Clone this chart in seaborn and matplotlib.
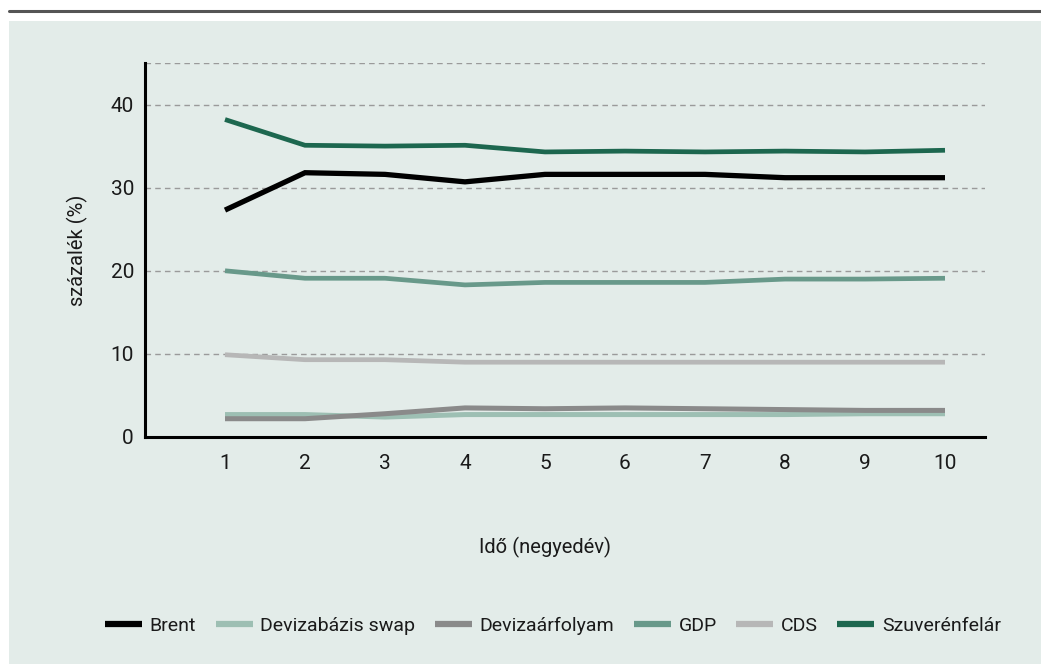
import matplotlib
matplotlib.use("Agg")
import matplotlib.pyplot as plt
from matplotlib.patches import Rectangle
from matplotlib.lines import Line2D
import numpy as np
import pandas as pd
import seaborn as sns

quarters = [1, 2, 3, 4, 5, 6, 7, 8, 9, 10]
brent = [27.3, 31.8, 31.6, 30.7, 31.6, 31.6, 31.6, 31.2, 31.2, 31.2]
swap = [2.7, 2.7, 2.4, 2.7, 2.7, 2.7, 2.7, 2.7, 2.8, 2.8]
fx = [2.2, 2.2, 2.8, 3.5, 3.4, 3.5, 3.4, 3.3, 3.2, 3.2]
gdp = [20.0, 19.1, 19.1, 18.3, 18.6, 18.6, 18.6, 19.0, 19.0, 19.1]
cds = [9.9, 9.3, 9.3, 9.0, 9.0, 9.0, 9.0, 9.0, 9.0, 9.0]
sovereign = [38.2, 35.1, 35.0, 35.1, 34.3, 34.4, 34.3, 34.4, 34.3, 34.5]

series_names = ["Brent", "Devizabázis swap", "Devizaárfolyam", "GDP", "CDS", "Szuverénfelár"]
series_values = [brent, swap, fx, gdp, cds, sovereign]
colors = ["#000000", "#9dbfb3", "#8a8a8a", "#68998a", "#b7b7b7", "#1d674f"]
widths = [3.8, 3.6, 3.6, 3.4, 3.4, 3.4]

df = pd.DataFrame({
    "Idő": np.tile(quarters, len(series_names)),
    "Érték": np.concatenate(series_values),
    "Sorozat": np.repeat(series_names, len(quarters)),
})

sns.set_theme(style="white")
plt.rcParams["font.family"] = ["Roboto", "DejaVu Sans"]
plt.rcParams["text.color"] = "#1a1a1a"
plt.rcParams["axes.labelcolor"] = "#1a1a1a"
plt.rcParams["xtick.color"] = "#1a1a1a"
plt.rcParams["ytick.color"] = "#1a1a1a"

W, H = 1041, 664
fig = plt.figure(figsize=(W / 100, H / 100), dpi=100)
fig.patch.set_facecolor("white")

# light background panel and the rule above it
fig.patches.append(Rectangle((9 / W, 0), 1 - 9 / W, 1 - 21 / H, transform=fig.transFigure,
                             facecolor="#e3ece9", edgecolor="none", zorder=0))
fig.lines.append(Line2D([9 / W, 1], [1 - 11 / H, 1 - 11 / H], transform=fig.transFigure,
                        color="#555555", linewidth=2.2, zorder=0))

ax = fig.add_axes([145 / W, (H - 437) / H, 840 / W, 374 / H])
ax.set_zorder(2)
ax.set_facecolor("none")

for name, col, lw in zip(series_names, colors, widths):
    sns.lineplot(data=df[df["Sorozat"] == name], x="Idő", y="Érték", color=col,
                 linewidth=lw, ax=ax, legend=False, zorder=3,
                 solid_capstyle="butt", solid_joinstyle="miter")

ax.set_xlim(0, 10.5)
ax.set_ylim(0, 45)
ax.set_xticks(quarters)
ax.set_xticks(np.arange(0.5, 10.5, 0.5), minor=True)
ax.set_yticks([0, 10, 20, 30, 40])
for yv in [10, 20, 30, 40, 45]:
    ax.axhline(yv, color="#9a9a9a", linestyle=(0, (4, 3)), linewidth=1.0, zorder=1)

for side in ["top", "right"]:
    ax.spines[side].set_visible(False)
for side in ["left", "bottom"]:
    ax.spines[side].set_color("black")
    ax.spines[side].set_linewidth(2.2)
    ax.spines[side].set_zorder(4)

ax.tick_params(axis="x", which="both", direction="in", length=4, width=0.8, color="#444444",
               labelsize=15, pad=12)
ax.tick_params(axis="y", which="both", direction="in", length=0, labelsize=15, pad=8)
ax.set_xlabel("")
ax.set_ylabel("százalék (%)", fontsize=14.5, labelpad=16)

fig.text(545 / W, 1 - 547 / H, "Idő (negyedév)", ha="center", va="center", fontsize=14.5)

handles = [Line2D([], [], color=c, linewidth=4.5, solid_capstyle="butt") for c in colors]
fig.legend(handles, series_names, loc="center", bbox_to_anchor=(553 / W, 1 - 626 / H),
           ncol=6, frameon=False, fontsize=14, handlelength=1.9, handletextpad=0.4,
           columnspacing=1.0)

fig.savefig("out.png", dpi=100)
